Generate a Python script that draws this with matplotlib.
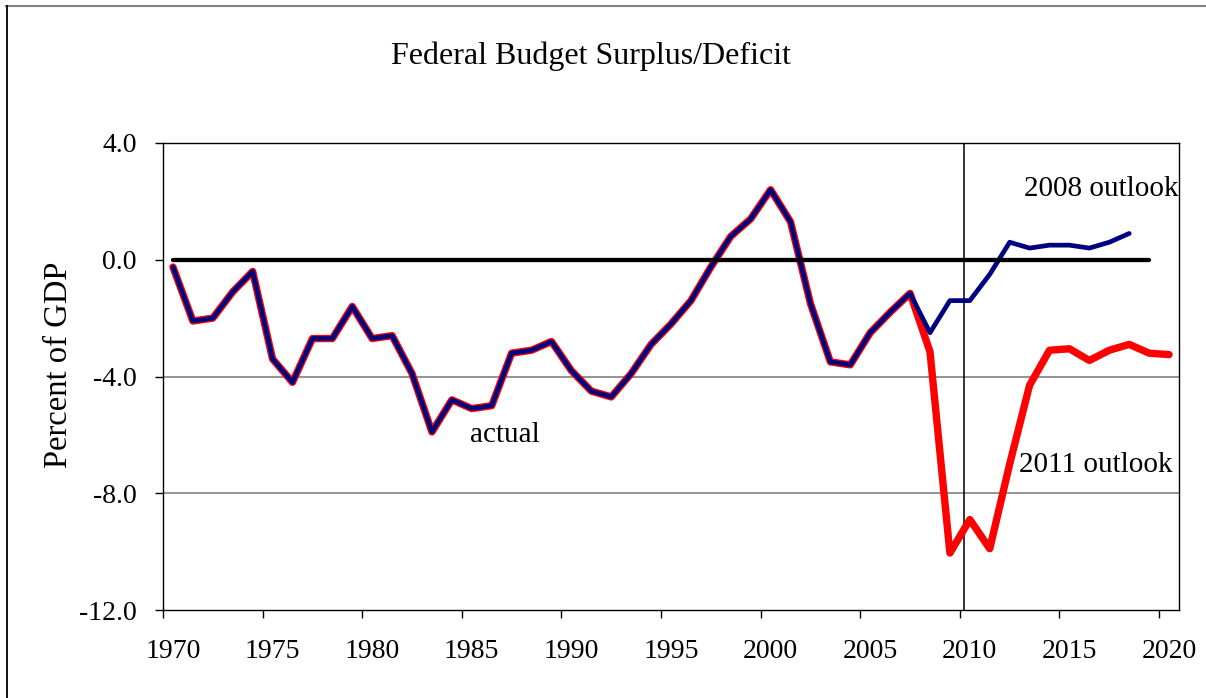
import matplotlib
matplotlib.use("Agg")
import matplotlib.pyplot as plt
from matplotlib.lines import Line2D

plt.rcParams['font.family'] = ['Liberation Serif', 'DejaVu Serif']

# actual deficit 1970-2007, then the two outlooks
actual_years = list(range(1970, 2008))
actual_pct = [-0.25, -2.1, -2.0, -1.1, -0.4, -3.4, -4.2, -2.7, -2.7, -1.6,
              -2.7, -2.6, -3.9, -5.9, -4.8, -5.1, -5.0, -3.2, -3.1, -2.8,
              -3.8, -4.5, -4.7, -3.9, -2.9, -2.2, -1.4, -0.25, 0.8, 1.4,
              2.4, 1.3, -1.5, -3.5, -3.6, -2.5, -1.8, -1.15]

outlook_2008_years = list(range(2008, 2019))
outlook_2008_pct = [-2.5, -1.4, -1.4, -0.5, 0.6, 0.4, 0.5, 0.5, 0.4, 0.6, 0.9]

outlook_2011_years = list(range(2008, 2021))
outlook_2011_pct = [-3.15, -10.05, -8.9, -9.9, -7.0, -4.3, -3.1, -3.05, -3.45,
                    -3.1, -2.9, -3.2, -3.25]

zero_years = [1970, 2019]
zero_pct = [0.0, 0.0]

split_year = 2009.7

y_ticks = [4.0, 0.0, -4.0, -8.0, -12.0]
x_labels = [1970, 1975, 1980, 1985, 1990, 1995, 2000, 2005, 2010, 2015, 2020]

red_x = actual_years + outlook_2011_years
red_y = actual_pct + outlook_2011_pct
blue_x = actual_years + outlook_2008_years
blue_y = actual_pct + outlook_2008_pct

fig = plt.figure(figsize=(12.06, 6.98), dpi=100)
ax = fig.add_axes([163 / 1206, 1 - 610 / 698, (1179 - 163) / 1206, (610 - 143) / 698])

ax.set_xlim(1969.5, 2020.5)
ax.set_ylim(-12, 4)

# gray gridlines
for v in [-4.0, -8.0]:
    ax.axhline(v, color='#808080', linewidth=1.2, zorder=1)

ax.plot(red_x, red_y, color='#FF0000', linewidth=5.3,
        solid_capstyle='round', solid_joinstyle='round', zorder=3)
ax.plot(blue_x, blue_y, color='#000080', linewidth=3.4,
        solid_capstyle='round', solid_joinstyle='round', zorder=4)
ax.plot(zero_years, zero_pct, color='black', linewidth=3.1,
        solid_capstyle='round', zorder=5)
ax.axvline(split_year, color='black', linewidth=1.1, zorder=2)

ax.text(2020.45, 2.2, "2008 outlook", fontsize=21, ha='right', va='baseline')
ax.text(2020.15, -7.28, "2011 outlook", fontsize=21, ha='right', va='baseline')
ax.text(1984.9, -6.23, "actual", fontsize=21, ha='left', va='baseline')

# ticks between categories, labels at year centres
ax.set_yticks(y_ticks)
ax.set_yticklabels([f"{v:.1f}" for v in y_ticks])
ax.set_xticks([y - 0.5 for y in x_labels])
ax.set_xticklabels([])
ax.set_xticks(x_labels, minor=True)
ax.set_xticklabels([str(y) for y in x_labels], minor=True)
ax.tick_params(axis='x', which='minor', length=0, pad=21, labelsize=20)
ax.tick_params(axis='x', which='major', direction='out', length=5.8, width=1)
ax.tick_params(axis='y', direction='out', length=5.8, width=1, pad=13.2, labelsize=20)

for s in ax.spines.values():
    s.set_linewidth(1.0)
    s.set_color('black')

fig.text(591 / 1206, 1 - 64.3 / 698, "Federal Budget Surplus/Deficit",
         fontsize=23, ha='center', va='baseline')
fig.text(58.5 / 1206, 1 - 365 / 698, "Percent of GDP", fontsize=23.5,
         rotation=90, ha='center', va='center')

# outer frame: gray top, black left
fig.add_artist(Line2D([6 / 1206, 1.0], [1 - 6 / 698, 1 - 6 / 698],
                      color='#808080', linewidth=1.5, transform=fig.transFigure))
fig.add_artist(Line2D([6.5 / 1206, 6.5 / 1206], [0.0, 1 - 6 / 698],
                      color='black', linewidth=1.3, transform=fig.transFigure))

fig.savefig("out.png", dpi=100)
